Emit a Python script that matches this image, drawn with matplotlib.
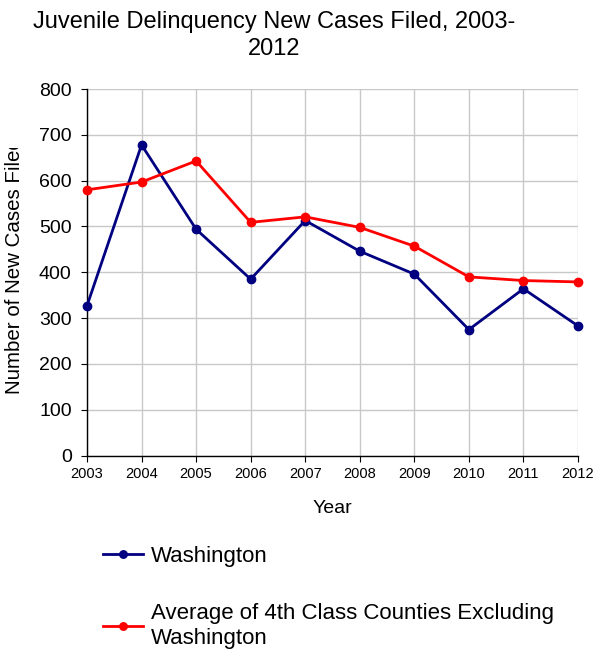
import matplotlib
matplotlib.use("Agg")
import matplotlib.pyplot as plt
from matplotlib.transforms import Bbox, TransformedBbox

# data
years = [2003, 2004, 2005, 2006, 2007, 2008, 2009, 2010, 2011, 2012]
washington = [327, 678, 494, 385, 513, 446, 396, 275, 364, 283]
avg_4th_class = [580, 597, 643, 509, 521, 498, 457, 390, 382, 379]
series_labels = ["Washington",
                 "Average of 4th Class Counties Excluding\nWashington"]

plt.rcParams['font.family'] = ['Liberation Sans', 'DejaVu Sans']

W, H = 593, 652
fig = plt.figure(figsize=(W / 100, H / 100), dpi=100)
ax = fig.add_axes([87 / W, 1 - 455.6 / H, (578 - 87) / W, (455.6 - 89) / H])

ax.plot(years, washington, color='#000080', lw=2, marker='o', ms=6,
        label=series_labels[0], clip_on=False, zorder=3)
ax.plot(years, avg_4th_class, color='#ff0000', lw=2, marker='o', ms=6,
        label=series_labels[1], clip_on=False, zorder=3)

ax.set_xlim(2003, 2012)
ax.set_ylim(0, 800)
ax.set_xticks(years)
ax.set_yticks(range(0, 801, 100))
ax.tick_params(axis='x', labelsize=10.5, direction='out', length=4, pad=4)
ax.tick_params(axis='y', labelsize=14, direction='out', length=4, pad=7)
ax.grid(True, color='#c8c8c8', lw=1)
ax.set_axisbelow(True)
for s in ['top', 'right']:
    ax.spines[s].set_visible(False)
for s in ['left', 'bottom']:
    ax.spines[s].set_linewidth(1)

ax.set_xlabel("Year", fontsize=14, labelpad=14)
ax.set_ylabel("Number of New Cases Filed", fontsize=14.8)
ax.yaxis.set_label_coords(24 / W, 1 - 266 / H, transform=fig.transFigure)
# the original label runs past the plot top and gets cut off
lbl = ax.yaxis.label
lbl.set_clip_on(True)
lbl.set_clip_box(TransformedBbox(Bbox([[0, 0], [1, 1 - 148 / H]]), fig.transFigure))

fig.text(274 / W, 1 - 35.5 / H, "Juvenile Delinquency New Cases Filed, 2003-\n2012",
         ha='center', va='center', fontsize=17, linespacing=1.32)

leg = fig.legend(loc='upper left', bbox_to_anchor=(103 / W, 1 - 546 / H),
                 frameon=False, fontsize=16, handlelength=1.8,
                 handletextpad=0.35, labelspacing=1.6, borderpad=0,
                 borderaxespad=0, markerscale=0.9)
for t in leg.get_texts():
    t.set_linespacing(1.3)

fig.savefig("out.png", dpi=100)
